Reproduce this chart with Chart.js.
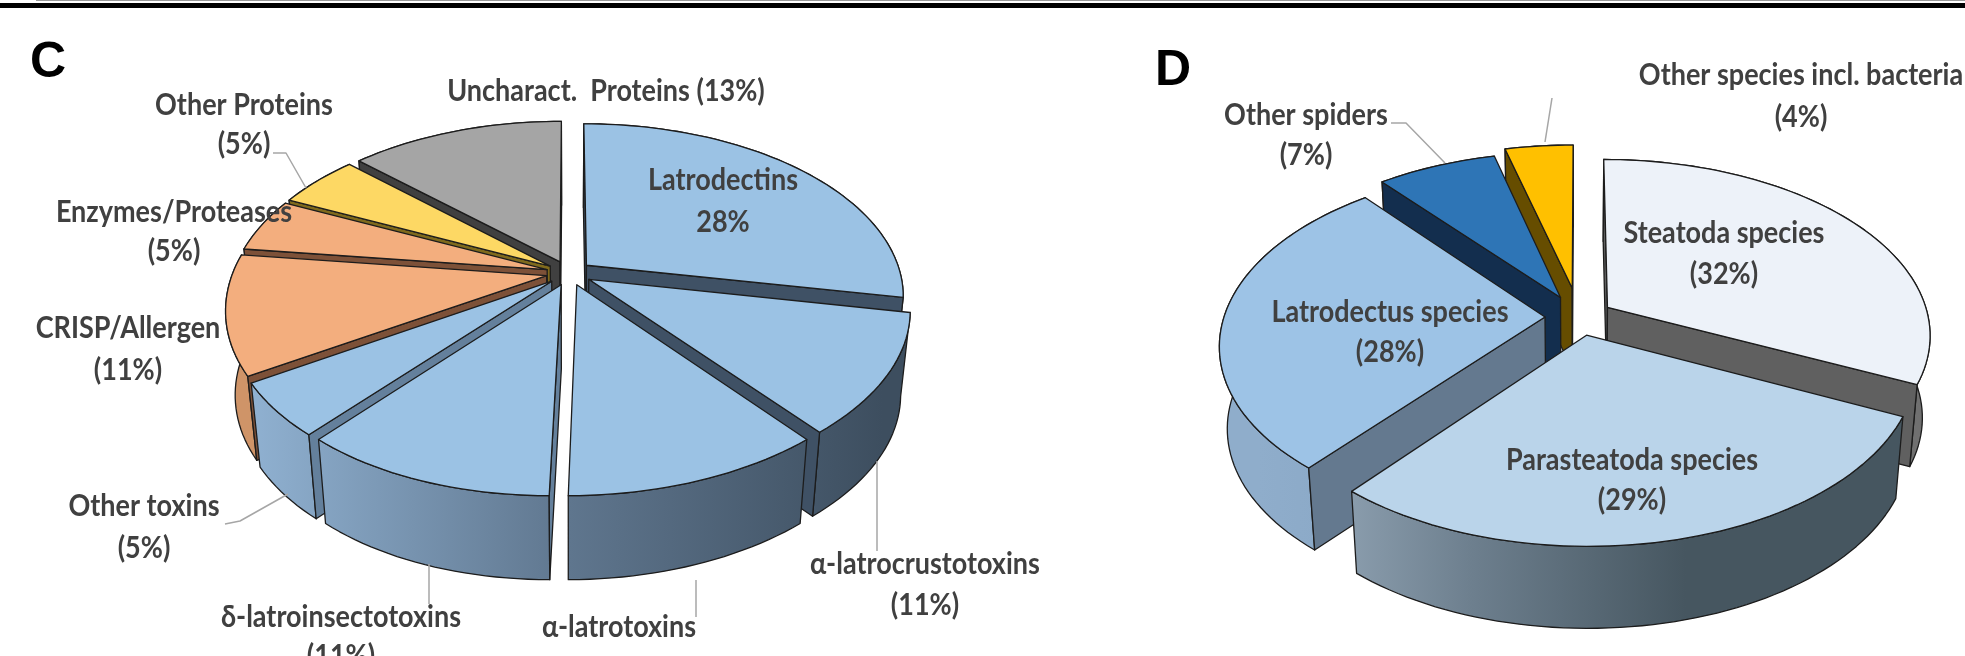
<!DOCTYPE html>
<html>
<head>
<meta charset="utf-8">
<title>Protein and species composition</title>
<script src="https://cdn.jsdelivr.net/npm/chart.js@4"></script>
<style>
  html, body { margin: 0; padding: 0; background: #fff; overflow: hidden; }
  body { width: 1965px; height: 656px; position: relative; }
  canvas { position: absolute; top: 0; }
  #rule { position: absolute; left: 0; top: 3px; width: 1965px; height: 5px; background: #000; }
  #ruleThin { position: absolute; left: 36px; top: 0; width: 1929px; height: 1px; background: #999; }
  .letter { position: absolute; font: bold 50px "Liberation Sans", Arial, sans-serif; color: #000; line-height: 50px; }
</style>
</head>
<body>
<div id="ruleThin"></div>
<div id="rule"></div>
<div class="letter" style="left:30px;top:35px">C</div>
<div class="letter" style="left:1155px;top:43px">D</div>
<canvas id="pieC" width="1100" height="656" style="left:0"></canvas>
<canvas id="pieD" width="985" height="656" style="left:980px"></canvas>

<script>
// panel C
const proteinNames = ['Latrodectins', 'α-latrocrustotoxins', 'α-latrotoxins', 'δ-latroinsectotoxins',
  'Other toxins', 'CRISP/Allergen', 'Enzymes/Proteases', 'Other Proteins', 'Uncharact.  Proteins'];
const proteinShares = [28, 11, 11, 11, 5, 11, 5, 5, 13];

// panel D
const speciesNames = ['Steatoda species', 'Parasteatoda species', 'Latrodectus species',
  'Other spiders', 'Other species incl. bacteria'];
const speciesShares = [32, 29, 28, 7, 4];

const BLUE_SIDE = ['#8fb0d0', '#5f768e', '#3d4e5f'];

const proteinStyle = {
  top:  ['#9bc2e4', '#9bc2e4', '#9bc2e4', '#9bc2e4', '#9bc2e4', '#f3ae7e', '#f3ae7e', '#fdd864', '#a5a5a5'],
  side: [BLUE_SIDE, BLUE_SIDE, BLUE_SIDE, BLUE_SIDE, BLUE_SIDE, ['#cf9468'], ['#cf9468'], ['#b8962e'], ['#6e6e6e']],
  wall: ['#3f5165', '#3f5165', '#4d637a', '#64809c', '#64809c', '#7d5138', '#7d5138', '#7f6a1c', '#404040']
};
const speciesStyle = {
  top:  ['#edf2f9', '#bad4ea', '#9dc3e6', '#2e75b6', '#ffc000'],
  side: [['#707070'], ['#9fb2c3', '#6d7f8e', '#465660', '#465660'], ['#8fadcb', '#6f8dac'], ['#1b4a78'], ['#7f6000']],
  wall: ['#606060', '#465660', '#64798f', '#132e4e', '#664d00']
};

// tilt and perspective of each pie, in canvas pixels
const viewC = { cx: 569, cy: 273, rx: 314, ry: 169, k: 0.177, depth: 84, lean: 9, taper: 0.028 };
const viewD = { cx: 599, cy: 317, rx: 321, ry: 173, k: 0.152, depth: 82, lean: 0, taper: 0.022 };

// screen position of a point on the pie plane, z = 0 top face, z = 1 bottom face
function project(view, px, py, z) {
  const s = 1 / (1 - view.k * py);
  const x = view.rx * px * s - view.lean * (py > 0 ? py * py : 0);
  return [view.cx + x * (1 - view.taper * z), view.cy + view.ry * py * s + view.depth * z];
}

function slicePoints(arc, view) {
  const R = arc.outerRadius;
  const mid = (arc.startAngle + arc.endAngle) / 2;
  const e = (arc.options.offset || 0) / R;
  const ox = Math.cos(mid) * e, oy = Math.sin(mid) * e;
  const n = Math.max(4, Math.ceil((arc.endAngle - arc.startAngle) / 0.03));
  const rim = [];
  for (let i = 0; i <= n; i++) {
    const a = arc.startAngle + (arc.endAngle - arc.startAngle) * i / n;
    rim.push([ox + Math.cos(a), oy + Math.sin(a)]);
  }
  return { apex: [ox, oy], rim: rim, depthKey: oy };
}

function tracePath(ctx, pts) {
  ctx.beginPath();
  pts.forEach((p, i) => i ? ctx.lineTo(p[0], p[1]) : ctx.moveTo(p[0], p[1]));
  ctx.closePath();
}

function paintFace(ctx, pts, fill) {
  tracePath(ctx, pts);
  ctx.fillStyle = fill;
  ctx.fill();
  ctx.strokeStyle = '#1c1c1c';
  ctx.lineWidth = 1.3;
  ctx.lineJoin = 'round';
  ctx.stroke();
}

function sideFill(ctx, view, stops) {
  if (stops.length === 1) return stops[0];
  const g = ctx.createLinearGradient(view.cx - view.rx, 0, view.cx + view.rx, 0);
  stops.forEach((c, i) => g.addColorStop(i / (stops.length - 1), c));
  return g;
}

// a cut face shows only when its lower edge falls outside the slice's top face
function cutFaceVisible(apex, corner, inner) {
  const ex = corner[0] - apex[0], ey = corner[1] - apex[1];
  const towardInner = ex * (inner[1] - apex[1]) - ey * (inner[0] - apex[0]);
  const towardDown = ex;
  return towardInner * towardDown < 0;
}

// exploded pie with thickness, built from the arcs Chart.js laid out
const pie3d = {
  id: 'pie3d',
  beforeDatasetsDraw(chart, args, opts) {
    const ctx = chart.ctx, view = opts.view, style = opts.style;
    const slices = chart.getDatasetMeta(0).data.map((arc, i) => ({ i: i, geo: slicePoints(arc, view) }));
    slices.sort((a, b) => a.geo.depthKey - b.geo.depthKey);

    slices.forEach(({ i, geo }) => {
      const P = (p, z) => project(view, p[0], p[1], z);
      const first = geo.rim[0], last = geo.rim[geo.rim.length - 1];
      const inner = P(geo.rim[Math.floor(geo.rim.length / 2)], 0);
      // outer wall first, the cut faces sit in front of it
      const wall = geo.rim.map(p => P(p, 0)).concat(geo.rim.slice().reverse().map(p => P(p, 1)));
      paintFace(ctx, wall, sideFill(ctx, view, style.side[i]));
      [first, last].forEach(edge => {
        if (cutFaceVisible(P(geo.apex, 0), P(edge, 0), inner)) {
          paintFace(ctx, [P(geo.apex, 0), P(edge, 0), P(edge, 1), P(geo.apex, 1)], style.wall[i]);
        }
      });
      // top face
      paintFace(ctx, [P(geo.apex, 0)].concat(geo.rim.map(p => P(p, 0))), style.top[i]);
    });
    return false;
  },
  afterDraw(chart, args, opts) {
    const ctx = chart.ctx;
    ctx.save();
    ctx.strokeStyle = '#a6a6a6';
    ctx.lineWidth = 1.5;
    opts.leaders.forEach(line => {
      ctx.beginPath();
      line.forEach((p, i) => i ? ctx.lineTo(p[0], p[1]) : ctx.moveTo(p[0], p[1]));
      ctx.stroke();
    });
    ctx.fillStyle = '#404040';
    ctx.textAlign = 'center';
    ctx.textBaseline = 'middle';
    ctx.font = '700 30px Lato';
    opts.labels.forEach(t => {
      ctx.save();
      ctx.translate(t[1], t[2]);
      ctx.scale(0.9, 1);
      ctx.fillText(t[0], 0, 0);
      ctx.restore();
    });
    ctx.restore();
  }
};

function makePie(id, names, shares, offset, style, view, labels, leaders) {
  return new Chart(document.getElementById(id), {
    type: 'pie',
    data: {
      labels: names,
      datasets: [{ data: shares, backgroundColor: style.top, borderWidth: 0, offset: offset }]
    },
    options: {
      responsive: false,
      animation: false,
      plugins: {
        legend: { display: false },
        tooltip: { enabled: false },
        pie3d: { view: view, style: style, labels: labels, leaders: leaders }
      }
    },
    plugins: [pie3d]
  });
}

const pct = (v) => '(' + v + '%)';

const labelsC = [
  [proteinNames[8] + ' ' + pct(proteinShares[8]), 606, 91],
  [proteinNames[7], 244, 105], [pct(proteinShares[7]), 244, 144],
  [proteinNames[6], 174, 212], [pct(proteinShares[6]), 174, 251],
  [proteinNames[5], 128, 328], [pct(proteinShares[5]), 128, 370],
  [proteinNames[4], 144, 506], [pct(proteinShares[4]), 144, 548],
  [proteinNames[3], 341, 617], [pct(proteinShares[3]), 341, 656],
  [proteinNames[2], 619, 627],
  [proteinNames[1], 925, 564], [pct(proteinShares[1]), 925, 605],
  [proteinNames[0], 723, 180], [proteinShares[0] + '%', 723, 222]
];
const leadersC = [
  [[273, 153], [286, 153], [306, 188]],
  [[225, 524], [240, 521], [288, 494]],
  [[429, 564], [429, 604]],
  [[696, 580], [696, 617]],
  [[877, 461], [877, 551]]
];

const labelsD = [
  [speciesNames[4], 821, 75], [pct(speciesShares[4]), 821, 117],
  [speciesNames[3], 326, 115], [pct(speciesShares[3]), 326, 155],
  [speciesNames[0], 744, 233], [pct(speciesShares[0]), 744, 274],
  [speciesNames[2], 410, 312], [pct(speciesShares[2]), 410, 352],
  [speciesNames[1], 652, 460], [pct(speciesShares[1]), 652, 500]
];
const leadersD = [
  [[411, 123], [426, 123], [465, 163]],
  [[572, 98], [565, 142]]
];

makePie('pieC', proteinNames, proteinShares, 23, proteinStyle, viewC, labelsC, leadersC);
makePie('pieD', speciesNames, speciesShares, [32, 32, 32, 39, 52], speciesStyle, viewD, labelsD, leadersD);
</script>
</body>
</html>
